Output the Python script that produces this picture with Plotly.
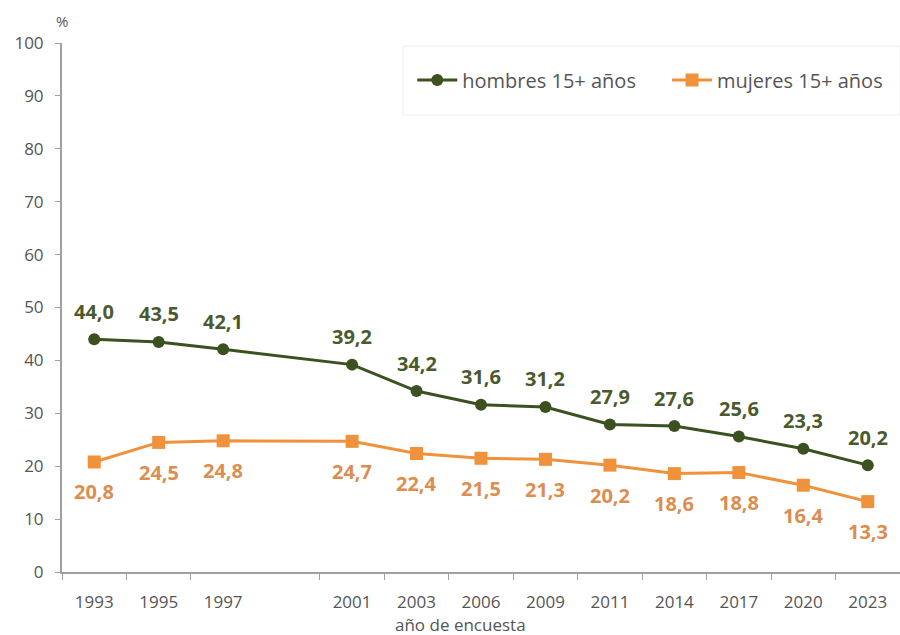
import plotly.graph_objects as go

slots = ["1993", "1995", "1997", "1999", "2001", "2003", "2006", "2009", "2011", "2014", "2017", "2020", "2023"]
years = ["1993", "1995", "1997", "2001", "2003", "2006", "2009", "2011", "2014", "2017", "2020", "2023"]
hombres = [44.0, 43.5, 42.1, 39.2, 34.2, 31.6, 31.2, 27.9, 27.6, 25.6, 23.3, 20.2]
mujeres = [20.8, 24.5, 24.8, 24.7, 22.4, 21.5, 21.3, 20.2, 18.6, 18.8, 16.4, 13.3]
y_ticks = [0, 10, 20, 30, 40, 50, 60, 70, 80, 90, 100]

green = "#3b511f"
green_txt = "#4a5a2e"
orange = "#f0913c"
orange_txt = "#dc8d50"
font_family = "'Open Sans', Lato, sans-serif"
gray = "#555555"

def fmt(v):
    return f"{v:.1f}".replace(".", ",")

fig = go.Figure()
fig.add_trace(go.Scatter(
    x=years, y=hombres, mode="lines+markers", name="hombres 15+ años",
    line=dict(color=green, width=3),
    marker=dict(symbol="circle", size=12, color=green),
    legend="legend",
))
fig.add_trace(go.Scatter(
    x=years, y=mujeres, mode="lines+markers", name="mujeres 15+ años",
    line=dict(color=orange, width=3),
    marker=dict(symbol="square", size=13, color=orange),
    legend="legend2",
))

annotations = []
for x, v in zip(years, hombres):
    annotations.append(dict(x=slots.index(x), y=v, text=fmt(v), showarrow=False, yshift=28,
                            font=dict(color=green_txt, size=20, family=font_family, weight="bold")))
for x, v in zip(years, mujeres):
    annotations.append(dict(x=slots.index(x), y=v, text=fmt(v), showarrow=False, yshift=-30,
                            font=dict(color=orange_txt, size=20, family=font_family, weight="bold")))
annotations.append(dict(
    text="%", xref="paper", yref="paper", x=0.0, y=1.0, xanchor="center", yanchor="bottom",
    showarrow=False, yshift=10, font=dict(size=15, color=gray, family=font_family),
))
annotations.append(dict(
    text="año de encuesta", xref="paper", yref="paper", x=0.475, y=0, xanchor="center", yanchor="middle",
    showarrow=False, yshift=-52, font=dict(size=17, color=gray, family=font_family),
))

legend_common = dict(
    orientation="h", y=0.93, xanchor="left", yanchor="middle",
    bgcolor="rgba(0,0,0,0)", borderwidth=0,
    font=dict(size=20, color=gray, family=font_family), itemwidth=40,
)

fig.update_layout(
    width=900, height=635,
    margin=dict(l=62, r=0, t=43, b=63),
    paper_bgcolor="white", plot_bgcolor="white",
    font=dict(family=font_family, color=gray, size=16),
    showlegend=True,
    legend=dict(x=0.418, **legend_common),
    legend2=dict(x=0.722, **legend_common),
    shapes=[dict(type="rect", xref="paper", yref="paper", x0=0.407, x1=1.0, y0=0.864, y1=0.994,
                 line=dict(color="#eeeeee", width=1), fillcolor="rgba(0,0,0,0)", layer="below")],
    xaxis=dict(
        type="category", categoryorder="array", categoryarray=slots,
        range=[-0.5, 12.5],
        tickvals=years, ticktext=years,
        showline=True, linecolor="#a0a0a0", linewidth=2,
        ticks="outside", tickcolor="#a0a0a0", ticklen=6, tickson="boundaries",
        showgrid=False, zeroline=False, ticklabelstandoff=14,
        tickfont=dict(size=17, color=gray),
    ),
    yaxis=dict(
        range=[0, 100], tickvals=y_ticks,
        showline=True, linecolor="#a0a0a0", linewidth=2,
        ticks="outside", tickcolor="#a0a0a0", ticklen=5,
        showgrid=False, zeroline=False, ticklabelstandoff=8,
        tickfont=dict(size=17, color=gray),
    ),
    annotations=annotations,
)

fig.write_html("out.html")
